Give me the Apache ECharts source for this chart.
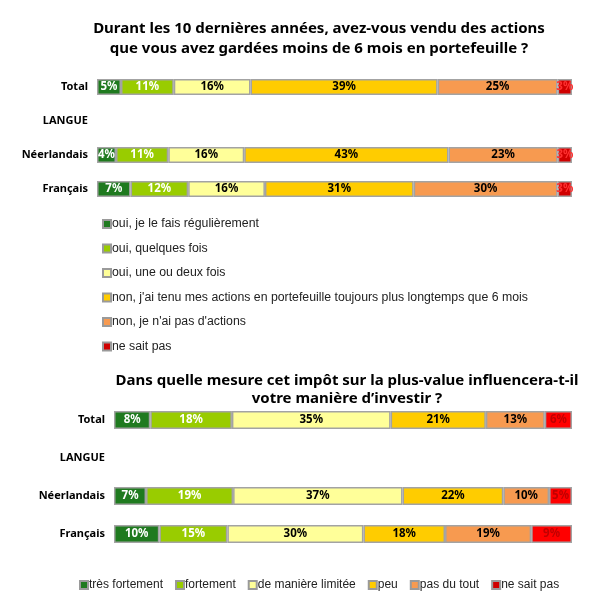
<!DOCTYPE html>
<html><head><meta charset="utf-8">
<script src="https://cdn.jsdelivr.net/npm/echarts@6/dist/echarts.min.js"></script>
<style>html,body{margin:0;padding:0;background:#fff}#c{width:603px;height:605px}</style>
</head><body><div id="c"></div>
<script>
// ---- Data ----
const rows = ['Total', 'LANGUE', 'Néerlandais', 'Français'];

const title1 = 'Durant les 10 dernières années, avez-vous vendu des actions\nque vous avez gardées moins de 6 mois en portefeuille ?';
const names1 = ['oui, je le fais régulièrement', 'oui, quelques fois', 'oui, une ou deux fois',
  'non, j\'ai tenu mes actions en portefeuille toujours plus longtemps que 6 mois',
  'non, je n\'ai pas d\'actions', 'ne sait pas'];
const top_regulier   = [5, null, 4, 7];
const top_quelques   = [11, null, 11, 12];
const top_uneDeux    = [16, null, 16, 16];
const top_nonTenu    = [39, null, 43, 31];
const top_pasActions = [25, null, 23, 30];
const top_nsp        = [3, null, 3, 3];

const title2 = 'Dans quelle mesure cet impôt sur la plus-value influencera-t-il\nvotre manière d\u2019investir ?';
const names2 = ['très fortement', 'fortement', 'de manière limitée', 'peu', 'pas du tout', 'ne sait pas'];
const bot_tresFort   = [8, null, 7, 10];
const bot_fort       = [18, null, 19, 15];
const bot_limitee    = [35, null, 37, 30];
const bot_peu        = [21, null, 22, 18];
const bot_pasDuTout  = [13, null, 10, 19];
const bot_nsp        = [6, null, 5, 9];

// ---- Styles ----
const colors1 = ['#1f7a1f', '#99cc00', '#ffff99', '#ffcc00', '#f79a50', '#d00000'];
const colors2 = ['#1f7a1f', '#99cc00', '#ffff99', '#ffcc00', '#f79a50', '#ff0000'];
const labelColors1 = ['#ffffff', '#ffffff', '#000000', '#000000', '#000000', '#ff3030'];
const labelColors2 = ['#ffffff', '#ffffff', '#000000', '#000000', '#000000', '#c00000'];
const FONT = 'Noto Sans';

function buildSeries(sets, names, colors, labelColors, axisIdx, barW) {
  const n = rows.length;
  const sums = [];
  for (let i = 0; i < n; i++) {
    let s = 0; sets.forEach(a => { if (a[i] != null) s += a[i]; });
    sums.push(s);
  }
  return sets.map((arr, k) => ({
    name: names[k], type: 'bar', stack: 'st' + axisIdx,
    xAxisIndex: axisIdx, yAxisIndex: axisIdx, barWidth: barW,
    itemStyle: { color: colors[k], borderColor: '#a3a3a3', borderWidth: 1.5 },
    label: {
      show: true, position: 'inside', color: labelColors[k],
      fontFamily: FONT, fontWeight: 'bold', fontSize: 11.5,
      formatter: p => arr[p.dataIndex] + '%'
    },
    labelLayout: { hideOverlap: false },
    data: arr.map((v, i) => v == null ? null : { value: v / sums[i] * 100 })
  }));
}

const chart = echarts.init(document.getElementById('c'), null, { renderer: 'canvas' });
const yAxisBase = {
  type: 'category', data: rows, inverse: true,
  axisLine: { show: false }, axisTick: { show: false }, splitLine: { show: false },
  axisLabel: { fontFamily: FONT, fontWeight: 'bold', fontSize: 11, color: '#000', margin: 9 }
};
const xAxisBase = { type: 'value', min: 0, max: 100, show: false, splitLine: { show: false } };

chart.setOption({
  animation: false,
  title: [
    { text: title1, left: 314, top: 14, textAlign: 'center',
      textStyle: { fontFamily: 'Noto Sans', fontWeight: 'bold', fontSize: 15, color: '#000', lineHeight: 20 } },
    { text: title2, left: 342, top: 367, textAlign: 'center',
      textStyle: { fontFamily: 'Noto Sans', fontWeight: 'bold', fontSize: 15, color: '#000', lineHeight: 18 } }
  ],
  grid: [
    { left: 97, right: 31, top: 70, height: 136 },
    { left: 114, right: 31, top: 401, height: 152 }
  ],
  xAxis: [Object.assign({ gridIndex: 0 }, xAxisBase), Object.assign({ gridIndex: 1 }, xAxisBase)],
  yAxis: [Object.assign({ gridIndex: 0 }, yAxisBase), Object.assign({ gridIndex: 1 }, yAxisBase)],
  legend: [
    { data: names1, orient: 'vertical', left: 97, top: 212, itemGap: 10.5,
      itemWidth: 8, itemHeight: 8, icon: 'rect',
      itemStyle: { borderColor: '#9a9a9a', borderWidth: 2 },
      textStyle: { fontFamily: 'Liberation Sans', fontSize: 12.3, color: '#222', lineHeight: 14, padding: [0, 0, 0, -4] } },
    { data: names2, orient: 'horizontal', left: 74, top: 574, itemGap: 12,
      itemWidth: 8, itemHeight: 8, icon: 'rect',
      itemStyle: { borderColor: '#9a9a9a', borderWidth: 2 },
      textStyle: { fontFamily: 'Liberation Sans', fontSize: 12, color: '#222', padding: [0, 0, 0, -4] } }
  ],
  series: [].concat(
    buildSeries([top_regulier, top_quelques, top_uneDeux, top_nonTenu, top_pasActions, top_nsp],
      names1, colors1, labelColors1, 0, 16),
    buildSeries([bot_tresFort, bot_fort, bot_limitee, bot_peu, bot_pasDuTout, bot_nsp],
      names2, colors2, labelColors2, 1, 18)
  )
});
</script></body></html>
